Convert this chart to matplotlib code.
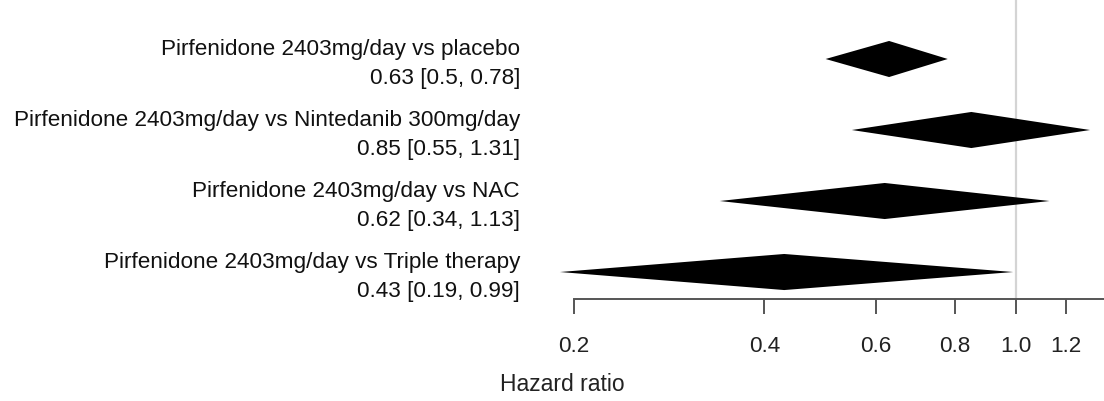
import matplotlib
matplotlib.use("Agg")
import matplotlib.pyplot as plt
import matplotlib.transforms as mtransforms

plt.rcParams['font.family'] = ['Liberation Sans', 'DejaVu Sans']

comparisons = [
    "Pirfenidone 2403mg/day vs placebo",
    "Pirfenidone 2403mg/day vs Nintedanib 300mg/day",
    "Pirfenidone 2403mg/day vs NAC",
    "Pirfenidone 2403mg/day vs Triple therapy",
]
hr = [0.63, 0.85, 0.62, 0.43]
ci_low = [0.5, 0.55, 0.34, 0.19]
ci_high = [0.78, 1.31, 1.13, 0.99]
xticks = [0.2, 0.4, 0.6, 0.8, 1.0, 1.2]
xtick_labels = ["0.2", "0.4", "0.6", "0.8", "1.0", "1.2"]

fig = plt.figure(figsize=(11.04, 4.02), dpi=100)
W, H = 1104, 402
# plotting region; the axis line itself starts at 0.2
ax = fig.add_axes([540 / W, 1 - 300 / H, (W - 540) / W, 300 / H])
ax.set_xscale('log')
ax.set_xlim(0.1767, 1.378)
ax.set_ylim(0.62, 4.845)

ax.axvline(1.0, color='#d4d4d4', lw=1.6, zorder=0)

n = len(hr)
half_h = 0.254
for i in range(n):
    y = n - i
    xs = [ci_low[i], hr[i], ci_high[i], hr[i]]
    ys = [y, y + half_h, y, y - half_h]
    ax.fill(xs, ys, color='black', lw=0, zorder=3)

fs = 16.2
trans = mtransforms.blended_transform_factory(fig.transFigure, ax.transData)
for i in range(n):
    y = n - i
    ax.text(520 / W, y + 0.15, comparisons[i], transform=trans, ha='right',
            va='center', fontsize=fs, color='#111111', clip_on=False)
    ax.text(520 / W, y - 0.255,
            "{} [{}, {}]".format(hr[i], ci_low[i], ci_high[i]),
            transform=trans, ha='right', va='center', fontsize=fs,
            color='#111111', clip_on=False)

for s in ['top', 'right', 'left']:
    ax.spines[s].set_visible(False)
ax.spines['bottom'].set_color('#555555')
ax.spines['bottom'].set_linewidth(1.4)
ax.spines['bottom'].set_bounds(0.2, 1.378)
ax.set_yticks([])
ax.xaxis.set_minor_locator(matplotlib.ticker.NullLocator())
ax.set_xticks(xticks)
ax.set_xticklabels(xtick_labels)
ax.tick_params(axis='x', length=11, width=1.4, color='#555555', pad=15,
               labelsize=fs, labelcolor='#222222')

fig.text(500 / W, 1 - 385 / H, "Hazard ratio", ha='left', va='center',
         fontsize=16.5, color='#222222')

fig.savefig("out.png", dpi=100)
